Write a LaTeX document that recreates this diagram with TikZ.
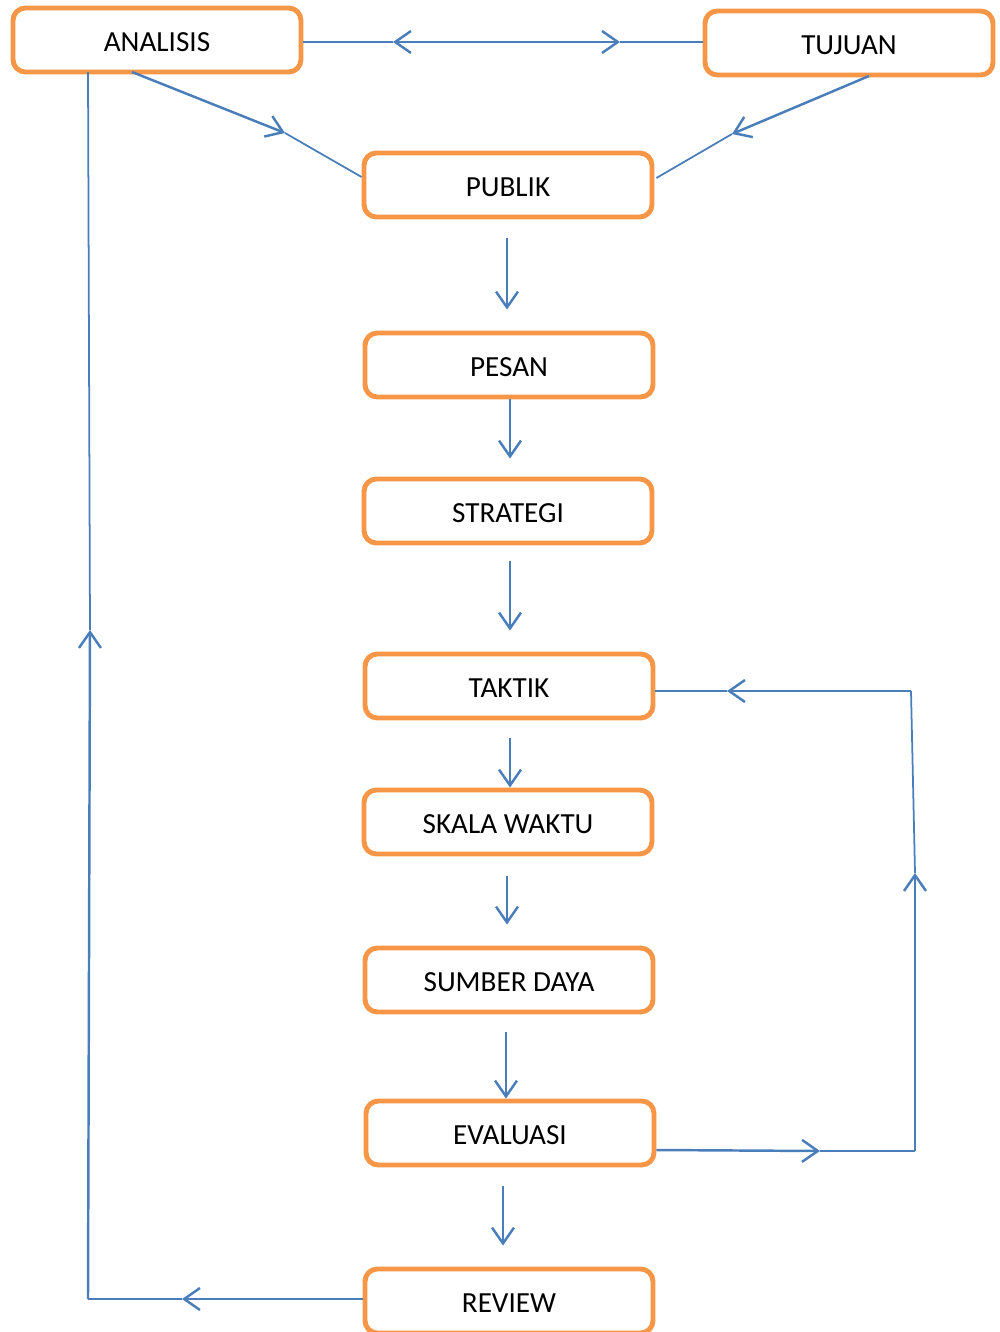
\documentclass[tikz,border=0pt]{standalone}
\usepackage{fontspec}
\setmainfont{Carlito}
\usepackage{tikz}
\usetikzlibrary{positioning, calc, arrows.meta}

\definecolor{oranye}{HTML}{F79646}
\definecolor{biru}{HTML}{4A7EBB}

\begin{document}
\begin{tikzpicture}[x=0.02cm, y=-0.02cm,
    kotak/.style={draw=oranye, line width=2.8pt, rounded corners=7pt, fill=white,
      minimum width=5.76cm, minimum height=1.28cm, text height=13.6pt, text depth=0pt,
      font=\fontsize{16.6}{19}\selectfont},
    garis/.style={draw=biru, line width=1pt},
    panah/.style={draw=biru, line width=1.4pt, -{Straight Barb[length=9pt,width=12.5pt]}}]
      \useasboundingbox (0,0) rectangle (1000,1332);

      % ノードの配置
      \node[kotak] (analisis) at (157,40) {ANALISIS};
      \node[kotak] (tujuan) at (849,43) {TUJUAN};
      \node[kotak] (publik) at (508,185) {PUBLIK};
      \node[kotak] (pesan) at (509,365) {PESAN};
      \node[kotak] (strategi) at (508,511) {STRATEGI};
      \node[kotak] (taktik) at (509,686) {TAKTIK};
      \node[kotak] (skala) at (508,822) {SKALA WAKTU};
      \node[kotak] (sumber) at (509,980) {SUMBER DAYA};
      \node[kotak] (evaluasi) at (510,1133) {EVALUASI};
      \node[kotak] (review) at (509,1301) {REVIEW};

      % 補助点
      \coordinate (tengahAT) at (507,42);
      \coordinate (kiriA) at (393,42);
      \coordinate (kananT) at (620,42);
      \coordinate (aBawah) at (132,72);
      \coordinate (aPanah) at (285,133);
      \coordinate (tBawah) at (869,76);
      \coordinate (tPanah) at (732,134);
      \coordinate (e1) at (820,1151);
      \coordinate (e2) at (915,1151);
      \coordinate (e3) at (915,873);
      \coordinate (e4) at (911,691);
      \coordinate (e5) at (727,691);
      \coordinate (r1) at (182,1299);
      \coordinate (r2) at (88,1299);
      \coordinate (r3) at (90,630);
      \coordinate (aKiri) at (88,72);

      % 上部の接続
      \draw[garis] (analisis.east |- tengahAT) -- (kiriA);
      \draw[panah] (tengahAT) -- (kiriA);
      \draw[panah] (tengahAT) -- (kananT);
      \draw[garis] (kananT) -- (tujuan.west |- kananT);
      \draw[panah] (aBawah) -- (aPanah);
      \draw[garis] (aPanah) -- ($(publik.west)+(0,-8)$);
      \draw[panah] (tBawah) -- (tPanah);
      \draw[garis] (tPanah) -- ($(publik.east)+(2,-7)$);

      % 縦の矢印
      \draw[panah] ($(publik.south)+(-1,19)$) -- ($(pesan.north)+(-2,-21)$);
      \draw[panah] ($(pesan.south)+(1,0)$) -- ($(strategi.north)+(2,-18)$);
      \draw[panah] ($(strategi.south)+(2,16)$) -- ($(taktik.north)+(1,-21)$);
      \draw[panah] ($(taktik.south)+(1,18)$) -- ($(skala.north)+(2,0)$);
      \draw[panah] ($(skala.south)+(-1,20)$) -- ($(sumber.north)+(-2,-21)$);
      \draw[panah] ($(sumber.south)+(-3,18)$) -- ($(evaluasi.north)+(-4,0)$);
      \draw[panah] ($(evaluasi.south)+(-7,19)$) -- ($(review.north)+(-6,-21)$);

      % 右側のループ
      \draw[panah] ($(evaluasi.east)+(0,17)$) -- (e1);
      \draw[garis] (e1) -- (e2);
      \draw[panah] (e2) -- (e3);
      \draw[garis] (e3) -- (e4);
      \draw[panah] (e4) -- (e5);
      \draw[garis] (e5) -- ($(taktik.east)+(0,5)$);

      % 左側のループ
      \draw[panah] ($(review.west)+(0,-2)$) -- (r1);
      \draw[garis] (r1) -- (r2);
      \draw[panah] (r2) -- (r3);
      \draw[garis] (r3) -- (aKiri);
  \end{tikzpicture}
\end{document}
